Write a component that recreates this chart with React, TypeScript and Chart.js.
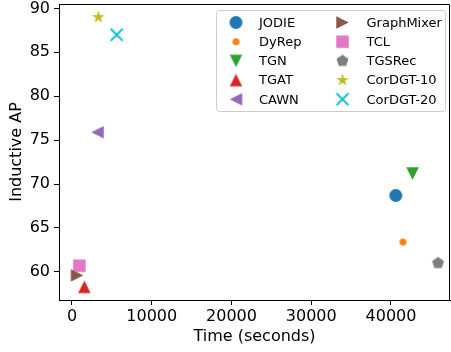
import React, { useEffect, useRef } from 'react';
import { Chart, registerables } from 'chart.js';

Chart.register(...registerables);

// ---- data ----
const methods = ['JODIE', 'DyRep', 'TGN', 'TGAT', 'CAWN', 'GraphMixer', 'TCL', 'TGSRec', 'CorDGT-10', 'CorDGT-20'];
const timeSeconds = [40600, 41500, 42700, 1550, 3200, 630, 920, 45900, 3300, 5600];
const inductiveAP = [68.7, 63.4, 71.2, 58.3, 75.9, 59.6, 60.7, 61.0, 89.0, 87.0];
const xTicks = [0, 10000, 20000, 30000, 40000];
const yTicks = [60, 65, 70, 75, 80, 85, 90];

// ---- styles ----
const markerColors = ['#1f77b4', '#ff7f0e', '#2ca02c', '#d62728', '#9467bd', '#8c564b', '#e377c2', '#7f7f7f', '#bcbd22', '#17becf'];
const markerKinds = ['circle', 'circle', 'triDown', 'triUp', 'triLeft', 'triRight', 'square', 'pentagon', 'star', 'x'];
const markerSizes = [13, 7, 12.5, 12.5, 12.5, 12.5, 12.5, 12.5, 13.5, 12];
const FONT = 'DejaVu Sans';

function makeMarker(kind: string, size: number, color: string): HTMLCanvasElement {
  const pad = 3;
  const dim = Math.ceil(size) + pad * 2;
  const c = document.createElement('canvas');
  c.width = dim;
  c.height = dim;
  const ctx = c.getContext('2d')!;
  const h = size / 2;
  ctx.translate(dim / 2, dim / 2);
  ctx.fillStyle = color;
  ctx.strokeStyle = color;
  ctx.beginPath();
  const poly = (pts: number[][]) => {
    ctx.moveTo(pts[0][0], pts[0][1]);
    for (let i = 1; i < pts.length; i++) ctx.lineTo(pts[i][0], pts[i][1]);
    ctx.closePath();
  };
  switch (kind) {
    case 'circle':
      ctx.arc(0, 0, h, 0, Math.PI * 2);
      break;
    case 'square':
      ctx.rect(-h, -h, size, size);
      break;
    case 'triUp':
      poly([[0, -h], [-h, h], [h, h]]);
      break;
    case 'triDown':
      poly([[0, h], [-h, -h], [h, -h]]);
      break;
    case 'triLeft':
      poly([[-h, 0], [h, -h], [h, h]]);
      break;
    case 'triRight':
      poly([[h, 0], [-h, -h], [-h, h]]);
      break;
    case 'pentagon': {
      const pts: number[][] = [];
      for (let i = 0; i < 5; i++) {
        const a = -Math.PI / 2 + (i * 2 * Math.PI) / 5;
        pts.push([h * Math.cos(a), h * Math.sin(a)]);
      }
      poly(pts);
      break;
    }
    case 'star': {
      const pts: number[][] = [];
      for (let i = 0; i < 10; i++) {
        const a = -Math.PI / 2 + (i * Math.PI) / 5;
        const r = i % 2 === 0 ? h : h * 0.381966;
        pts.push([r * Math.cos(a), r * Math.sin(a)]);
      }
      poly(pts);
      break;
    }
    case 'x':
      ctx.moveTo(-h, -h);
      ctx.lineTo(h, h);
      ctx.moveTo(-h, h);
      ctx.lineTo(h, -h);
      ctx.lineWidth = 2;
      ctx.stroke();
      return c;
  }
  ctx.fill();
  return c;
}

const zeroPad = (s: any) => {
  s.paddingTop = 0;
  s.paddingBottom = 0;
  s.paddingLeft = 0;
  s.paddingRight = 0;
};

export default function App() {
  const ref = useRef<HTMLCanvasElement>(null);

  useEffect(() => {
    const markers = methods.map((_, i) => makeMarker(markerKinds[i], markerSizes[i], markerColors[i]));

    const framePlugin = {
      id: 'frame',
      afterDraw(chart: any) {
        const { ctx, chartArea } = chart;
        ctx.save();
        ctx.strokeStyle = '#000';
        ctx.lineWidth = 1;
        ctx.beginPath();
        ctx.moveTo(chartArea.left, Math.round(chartArea.top) + 0.5);
        ctx.lineTo(Math.round(chartArea.right) - 0.5, Math.round(chartArea.top) + 0.5);
        ctx.lineTo(Math.round(chartArea.right) - 0.5, chartArea.bottom + 0.5);
        ctx.stroke();

        // legend
        const bx = 216.5, by = 10.5, bw = 229, bh = 101;
        const r = 3;
        ctx.beginPath();
        ctx.moveTo(bx + r, by);
        ctx.lineTo(bx + bw - r, by);
        ctx.arcTo(bx + bw, by, bx + bw, by + r, r);
        ctx.lineTo(bx + bw, by + bh - r);
        ctx.arcTo(bx + bw, by + bh, bx + bw - r, by + bh, r);
        ctx.lineTo(bx + r, by + bh);
        ctx.arcTo(bx, by + bh, bx, by + bh - r, r);
        ctx.lineTo(bx, by + r);
        ctx.arcTo(bx, by, bx + r, by, r);
        ctx.closePath();
        ctx.fillStyle = 'rgba(255,255,255,0.8)';
        ctx.fill();
        ctx.strokeStyle = '#cccccc';
        ctx.stroke();

        ctx.font = `13px "${FONT}"`;
        ctx.textBaseline = 'middle';
        ctx.textAlign = 'left';
        ctx.fillStyle = '#000';
        const rowY0 = 22.5, rowDY = 19.2;
        const colMarkerX = [236, 342.5];
        const colTextX = [259, 366.5];
        methods.forEach((m, i) => {
          const col = Math.floor(i / 5);
          const row = i % 5;
          const y = rowY0 + row * rowDY;
          const mk = markers[i];
          ctx.drawImage(mk, colMarkerX[col] - mk.width / 2, y - mk.height / 2);
          ctx.fillText(m, colTextX[col], y + 1);
        });
        ctx.restore();
      },
    };

    const tickFont = { family: FONT, size: 16 };
    const chart = new Chart(ref.current!, {
      type: 'scatter',
      data: {
        datasets: methods.map((m, i) => ({
          label: m,
          data: [{ x: timeSeconds[i], y: inductiveAP[i] }],
          pointStyle: markers[i] as any,
          pointRadius: 7,
          backgroundColor: markerColors[i],
          borderColor: markerColors[i],
        })),
      },
      options: {
        animation: false,
        responsive: false,
        devicePixelRatio: 1,
        events: [],
        layout: { autoPadding: false, padding: { top: 4, right: 1, left: 0, bottom: 0 } },
        plugins: { legend: { display: false }, tooltip: { enabled: false } },
        scales: {
          x: {
            type: 'linear',
            min: -1630,
            max: 47400,
            afterBuildTicks: (s: any) => {
              s.ticks = xTicks.map((v) => ({ value: v }));
            },
            afterFit: (s: any) => {
              s.height = 52;
              zeroPad(s);
            },
            grid: { drawOnChartArea: false, drawTicks: true, tickLength: 5, tickColor: '#000', tickWidth: 1 },
            border: { color: '#000', width: 1 },
            ticks: {
              color: '#000',
              font: tickFont,
              padding: 2,
              maxRotation: 0,
              autoSkip: false,
              callback: (v: any) => String(v),
            },
            title: {
              display: true,
              text: 'Time (seconds)',
              color: '#000',
              font: tickFont,
              padding: { top: 0, bottom: 6 },
            },
          },
          y: {
            type: 'linear',
            min: 56.8,
            max: 90.5,
            afterBuildTicks: (s: any) => {
              s.ticks = yTicks.map((v) => ({ value: v }));
            },
            afterFit: (s: any) => {
              s.width = 59;
              zeroPad(s);
            },
            grid: { drawOnChartArea: false, drawTicks: true, tickLength: 5, tickColor: '#000', tickWidth: 1 },
            border: { color: '#000', width: 1 },
            ticks: {
              color: '#000',
              font: tickFont,
              padding: 4,
              autoSkip: false,
              callback: (v: any) => String(v),
            },
            title: {
              display: true,
              text: 'Inductive AP',
              color: '#000',
              font: tickFont,
              padding: { top: 7, bottom: 0 },
            },
          },
        },
      },
      plugins: [framePlugin],
    });
    return () => chart.destroy();
  }, []);

  return (
    <div style={{ position: 'absolute', left: 0, top: 0, width: 451, height: 352 }}>
      <canvas ref={ref} width={451} height={352} style={{ display: 'block', width: 451, height: 352 }} />
    </div>
  );
}
